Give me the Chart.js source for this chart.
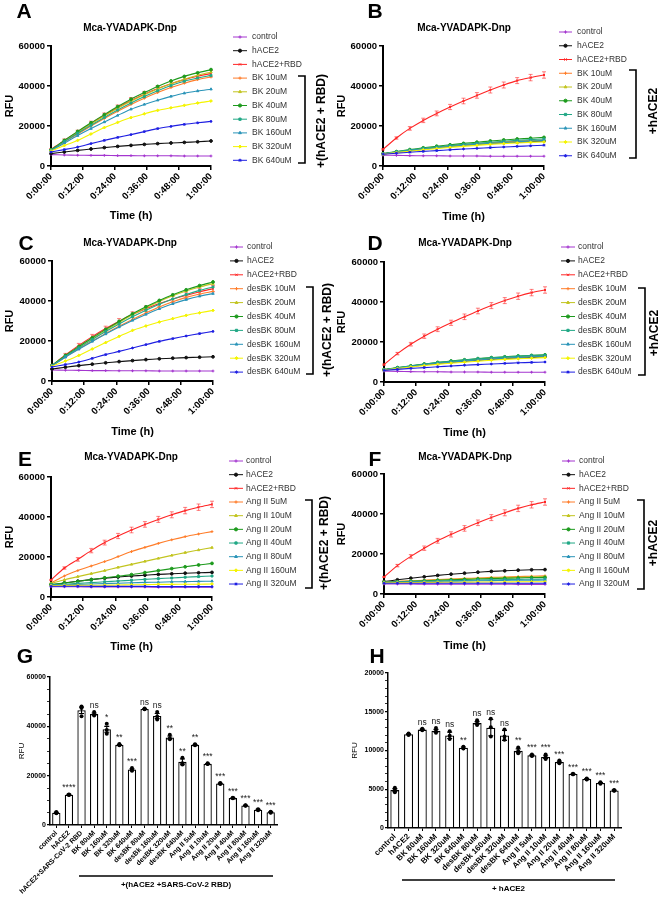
<!DOCTYPE html>
<html>
<head>
<meta charset="utf-8">
<script src="https://cdn.jsdelivr.net/npm/chart.js@4.4.1/dist/chart.umd.min.js"></script>
<style>
  body { margin: 0; background: #fff; }
  #fig { position: relative; width: 664px; height: 899px; background: #fff; overflow: hidden; }
  #fig canvas { position: absolute; }
</style>
</head>
<body>
<div id="fig"></div>
<script>
// ---- shared axis data ----
const minutes = [0, 5, 10, 15, 20, 25, 30, 35, 40, 45, 50, 55, 60];
const timeTicks = ['0:00:00', '0:12:00', '0:24:00', '0:36:00', '0:48:00', '1:00:00'];
const lineYTicks = [0, 20000, 40000, 60000];

const bkLabels = ['control', 'hACE2', 'hACE2+RBD', 'BK 10uM', 'BK 20uM', 'BK 40uM', 'BK 80uM', 'BK 160uM', 'BK 320uM', 'BK 640uM'];
const desLabels = ['control', 'hACE2', 'hACE2+RBD', 'desBK 10uM', 'desBK 20uM', 'desBK 40uM', 'desBK 80uM', 'desBK 160uM', 'desBK 320uM', 'desBK 640uM'];
const angLabels = ['control', 'hACE2', 'hACE2+RBD', 'Ang II 5uM', 'Ang II 10uM', 'Ang II 20uM', 'Ang II 40uM', 'Ang II 80uM', 'Ang II 160uM', 'Ang II 320uM'];

// ---- panel A: BK + (hACE2 + RBD) ----
const aControl = [5700, 5500, 5400, 5300, 5300, 5200, 5200, 5100, 5100, 5100, 5000, 5000, 5000];
const aHace2 = [6200, 7000, 7800, 8500, 9200, 9800, 10300, 10800, 11200, 11500, 11800, 12100, 12500];
const aRbd = [8300, 12800, 17000, 21300, 25300, 29200, 32800, 35900, 38700, 41100, 43200, 44900, 46200];
const aBk10 = [7800, 12000, 16000, 20000, 23800, 27400, 30800, 33900, 36700, 39200, 41400, 43200, 44500];
const aBk20 = [8000, 12500, 16800, 21000, 25000, 28900, 32400, 35600, 38500, 41100, 43400, 45400, 47000];
const aBk40 = [8000, 12800, 17300, 21600, 25700, 29700, 33400, 36700, 39800, 42500, 44800, 46600, 48200];
const aBk80 = [7900, 12200, 16400, 20400, 24300, 28000, 31500, 34700, 37600, 40200, 42400, 44000, 45300];
const aBk160 = [7600, 11400, 15200, 18700, 22000, 25300, 28400, 30800, 32900, 34800, 36400, 37500, 38400];
const aBk320 = [7500, 10200, 12800, 16000, 19200, 21800, 24200, 26100, 27800, 29100, 30300, 31500, 32500];
const aBk640 = [7000, 8200, 9500, 11200, 12800, 14300, 15700, 17200, 18700, 19800, 20800, 21600, 22300];
const aRbdErr = [400, 700, 900, 1100, 1200, 1300, 1400, 1400, 1500, 1500, 1600, 1600, 1600];

// ---- panel B: BK + hACE2 ----
const bControl = [5400, 5300, 5200, 5100, 5100, 5000, 5000, 5000, 4900, 4900, 4900, 4900, 4900];
const bHace2 = [6000, 6900, 7700, 8400, 9100, 9700, 10300, 10800, 11200, 11600, 11900, 12200, 12500];
const bRbd = [8300, 14000, 18800, 22800, 26300, 29500, 32500, 35300, 38000, 40500, 42700, 44200, 45500];
const bBk10 = [6100, 7000, 7800, 8600, 9300, 10000, 10600, 11100, 11600, 12000, 12400, 12700, 13000];
const bBk20 = [6000, 6900, 7700, 8400, 9100, 9700, 10300, 10800, 11300, 11700, 12100, 12500, 12800];
const bBk40 = [6200, 7200, 8200, 9100, 9900, 10600, 11300, 11900, 12500, 13000, 13500, 13900, 14300];
const bBk80 = [6100, 7100, 8000, 8800, 9500, 10200, 10800, 11400, 11900, 12400, 12800, 13200, 13500];
const bBk160 = [6000, 6900, 7700, 8400, 9100, 9700, 10300, 10800, 11300, 11700, 12100, 12500, 12800];
const bBk320 = [5900, 6700, 7400, 8100, 8700, 9300, 9800, 10300, 10800, 11200, 11500, 11800, 12000];
const bBk640 = [5900, 6400, 6900, 7300, 7700, 8100, 8500, 8800, 9200, 9500, 9800, 10100, 10400];
const bRbdErr = [300, 600, 900, 1100, 1200, 1300, 1400, 1400, 1500, 1500, 1500, 1600, 1600];

// ---- panel C: desBK + (hACE2 + RBD) ----
const cControl = [5500, 5400, 5300, 5200, 5200, 5100, 5100, 5100, 5000, 5000, 5000, 5000, 5000];
const cHace2 = [6000, 6900, 7700, 8400, 9100, 9700, 10200, 10700, 11100, 11400, 11700, 11900, 12100];
const cRbd = [7800, 13000, 17800, 22200, 26200, 29900, 33200, 36100, 38700, 40900, 42800, 44600, 46200];
const cDes10 = [7600, 12000, 16100, 20000, 23800, 27400, 30800, 34000, 37000, 39600, 41800, 43500, 44800];
const cDes20 = [7800, 12500, 16900, 21200, 25300, 29300, 33100, 36600, 39800, 42600, 45000, 47000, 48700];
const cDes40 = [7800, 12800, 17200, 21600, 25800, 29800, 33600, 37100, 40300, 43100, 45600, 47700, 49500];
const cDes80 = [7700, 12300, 16600, 20700, 24700, 28500, 32100, 35400, 38400, 41000, 43300, 45300, 47000];
const cDes160 = [7600, 11900, 15900, 19800, 23500, 27000, 30300, 33300, 36100, 38600, 40700, 42400, 43700];
const cDes320 = [7400, 10000, 12800, 16000, 19200, 22300, 25300, 27500, 29500, 31200, 32800, 34100, 35300];
const cDes640 = [7000, 8200, 9500, 11300, 13200, 14800, 16500, 18200, 19800, 21200, 22500, 23700, 24800];
const cRbdErr = [400, 800, 1000, 1100, 1200, 1300, 1400, 1400, 1500, 1500, 1600, 1600, 1600];

// ---- panel D: desBK + hACE2 ----
const dControl = [5400, 5300, 5200, 5100, 5100, 5000, 5000, 5000, 4900, 4900, 4900, 4900, 4900];
const dHace2 = [6100, 7000, 7800, 8500, 9200, 9800, 10400, 10900, 11300, 11700, 12000, 12300, 12500];
const dRbd = [8700, 14200, 18900, 22900, 26400, 29600, 32600, 35500, 38200, 40700, 42900, 44700, 46000];
const dDes10 = [6000, 6900, 7800, 8600, 9300, 10000, 10600, 11100, 11600, 12000, 12400, 12700, 13000];
const dDes20 = [6100, 7000, 7900, 8700, 9500, 10200, 10800, 11400, 11900, 12300, 12700, 13000, 13300];
const dDes40 = [6200, 7200, 8100, 9000, 9800, 10500, 11100, 11700, 12200, 12600, 13000, 13300, 13600];
const dDes80 = [6100, 7100, 8000, 8900, 9700, 10400, 11000, 11600, 12100, 12500, 12900, 13200, 13500];
const dDes160 = [6000, 6900, 7800, 8600, 9300, 9900, 10500, 11000, 11500, 11900, 12300, 12600, 12900];
const dDes320 = [5900, 6700, 7500, 8200, 8800, 9400, 9900, 10400, 10900, 11300, 11600, 11900, 12200];
const dDes640 = [5800, 6300, 6800, 7200, 7600, 8000, 8400, 8700, 9000, 9300, 9600, 9800, 10000];
const dRbdErr = [300, 600, 900, 1100, 1200, 1300, 1400, 1400, 1500, 1500, 1600, 1600, 1600];

// ---- panel E: Ang II + (hACE2 + RBD) ----
const eControl = [5200, 5100, 5100, 5000, 5000, 5000, 5000, 5000, 4900, 4900, 4900, 4900, 4900];
const eHace2 = [6000, 7000, 7900, 8700, 9400, 10000, 10500, 10900, 11300, 11600, 11900, 12100, 12300];
const eRbd = [8500, 14500, 18800, 23200, 27200, 30500, 33500, 36300, 38800, 41100, 43200, 44900, 46300];
const eAng5 = [7000, 10500, 13200, 15500, 17700, 20200, 22700, 24800, 26800, 28600, 30200, 31500, 32700];
const eAng10 = [6800, 8600, 10200, 11700, 13200, 14800, 16300, 17800, 19300, 20800, 22200, 23500, 24700];
const eAng20 = [6300, 7000, 7800, 8700, 9600, 10400, 11200, 12200, 13200, 14200, 15100, 16000, 16800];
const eAng40 = [6000, 6400, 6800, 7200, 7600, 8000, 8400, 8800, 9200, 9500, 9900, 10200, 10500];
const eAng80 = [5900, 6100, 6300, 6500, 6700, 6900, 7100, 7300, 7400, 7600, 7700, 7800, 7900];
const eAng160 = [5700, 5800, 5800, 5900, 5900, 6000, 6100, 6200, 6300, 6300, 6400, 6400, 6500];
const eAng320 = [5400, 5400, 5400, 5300, 5300, 5300, 5300, 5300, 5200, 5200, 5200, 5200, 5200];
const eRbdErr = [300, 600, 900, 1100, 1200, 1300, 1400, 1400, 1500, 1500, 1600, 1600, 1600];

// ---- panel F: Ang II + hACE2 ----
const fControl = [5000, 5000, 5000, 4900, 4900, 4900, 4900, 4900, 4900, 4900, 4800, 4800, 4800];
const fHace2 = [6200, 7100, 7900, 8600, 9300, 9900, 10400, 10900, 11300, 11600, 11900, 12100, 12200];
const fRbd = [8500, 14200, 18800, 22900, 26600, 29800, 32800, 35600, 38200, 40600, 42800, 44600, 46000];
const fAng5 = [6000, 6300, 6600, 6900, 7200, 7500, 7800, 8000, 8300, 8500, 8700, 8900, 9100];
const fAng10 = [5900, 6200, 6500, 6800, 7000, 7300, 7500, 7800, 8000, 8200, 8400, 8500, 8700];
const fAng20 = [5900, 6100, 6400, 6600, 6900, 7100, 7300, 7500, 7700, 7900, 8000, 8200, 8300];
const fAng40 = [5800, 6000, 6200, 6400, 6500, 6700, 6800, 7000, 7100, 7200, 7300, 7400, 7500];
const fAng80 = [5700, 5900, 6000, 6200, 6300, 6400, 6500, 6600, 6700, 6800, 6900, 6900, 7000];
const fAng160 = [5600, 5700, 5700, 5800, 5800, 5900, 5900, 6000, 6000, 6000, 6100, 6100, 6100];
const fAng320 = [5400, 5400, 5400, 5400, 5400, 5400, 5400, 5400, 5400, 5400, 5400, 5400, 5400];
const fRbdErr = [300, 600, 900, 1100, 1200, 1300, 1400, 1400, 1500, 1500, 1600, 1600, 1600];

// ---- panel G: end point, + (hACE2 + SARS-CoV-2 RBD) ----
const gLabels = ['control', 'hACE2', 'hACE2+SARS-CoV-2 RBD', 'BK 80uM', 'BK 160uM', 'BK 320uM', 'BK 640uM', 'desBK 80uM', 'desBk 160uM', 'desBK 320uM', 'desBK 640uM', 'Ang II 5uM', 'Ang II 10uM', 'Ang II 20uM', 'Ang II 40uM', 'Ang II 80uM', 'Ang II 160uM', 'Ang II 320uM'];
const gMeans = [5000, 12300, 46500, 45000, 38800, 32500, 22500, 47000, 44200, 35500, 25600, 32500, 24800, 16800, 10900, 7900, 6200, 5200];
const gErr = [150, 100, 1300, 400, 1200, 150, 300, 100, 1000, 600, 1200, 150, 100, 150, 100, 100, 150, 150];
const gRep1 = [5300, 12400, 48000, 45800, 41000, 32800, 23100, 47200, 45800, 36600, 27300, 32700, 25000, 17000, 11000, 8000, 6400, 5400];
const gRep2 = [5000, 12300, 47400, 44800, 38500, 32500, 22300, 47000, 44000, 35200, 25000, 32500, 24800, 16800, 10900, 7900, 6200, 5200];
const gRep3 = [4800, 12200, 44100, 44400, 37000, 32300, 22000, 46900, 42800, 34800, 24500, 32300, 24700, 16600, 10800, 7800, 6000, 5000];
const gSig = ['', '****', '', 'ns', '*', '**', '***', 'ns', 'ns', '**', '**', '**', '***', '***', '***', '***', '***', '***'];
const gYTicks = [0, 20000, 40000, 60000];

// ---- panel H: end point, + hACE2 ----
const hLabels = ['control', 'hACE2', 'BK 80uM', 'BK 160uM', 'BK 320uM', 'BK 640uM', 'desBK 80uM', 'desBk 160uM', 'desBK 320uM', 'desBK 640uM', 'Ang II 5uM', 'Ang II 10uM', 'Ang II 20uM', 'Ang II 40uM', 'Ang II 80uM', 'Ang II 160uM', 'Ang II 320uM'];
const hMeans = [4900, 12100, 12700, 12550, 11950, 10350, 13550, 12950, 11950, 9980, 9380, 9160, 8520, 6970, 6320, 5800, 4850];
const hErr = [180, 60, 60, 180, 400, 100, 180, 1050, 650, 230, 70, 170, 100, 30, 50, 60, 40];
const hRep1 = [5200, 12200, 12800, 12900, 12500, 10500, 13900, 14100, 12700, 10400, 9500, 9500, 8700, 7000, 6400, 5900, 4900];
const hRep2 = [4900, 12100, 12700, 12500, 11900, 10300, 13500, 13000, 11800, 9900, 9350, 9100, 8500, 6950, 6300, 5800, 4850];
const hRep3 = [4600, 12000, 12600, 12300, 11500, 10250, 13300, 11800, 11400, 9650, 9300, 8900, 8350, 6950, 6250, 5700, 4800];
const hSig = ['', '', 'ns', 'ns', 'ns', '**', 'ns', 'ns', 'ns', '**', '***', '***', '***', '***', '***', '***', '***'];
const hYTicks = [0, 5000, 10000, 15000, 20000];

// ---- styles ----
const FONT = '"Liberation Sans", Arial, Helvetica, sans-serif';
const lineColors = ['#a436cf', '#111111', '#ff2525', '#ff7d2a', '#c2c41f', '#1d9a1d', '#22a886', '#2a94b8', '#f4f400', '#1e1ee2'];
const markers = ['cross', 'circle', 'crossRot', 'cross', 'triangle', 'circle', 'rect', 'triangle', 'rectRot', 'star'];

Chart.defaults.font.family = FONT;
Chart.defaults.color = '#000';

const fig = document.getElementById('fig');

function addCanvas(box) {
    const c = document.createElement('canvas');
    c.width = box[2];
    c.height = box[3];
    c.style.left = box[0] + 'px';
    c.style.top = box[1] + 'px';
    fig.appendChild(c);
    return c;
}

// padding so the plot area lands on area = [left, top, right, bottom] (page px)
function fixedPadding(box, area) {
    return { left: 0, top: area[1] - box[1], right: box[0] + box[2] - area[2], bottom: 0 };
}

function drawMarker(ctx, style, x, y, r) {
    if (Chart.helpers && Chart.helpers.drawPoint) {
        Chart.helpers.drawPoint(ctx, { pointStyle: style, radius: r, rotation: 0, borderWidth: 1 }, x, y);
    } else {
        ctx.beginPath();
        ctx.arc(x, y, r, 0, Math.PI * 2);
        ctx.fill();
    }
}

function lineOverlay(p) {
    return {
        id: 'overlay' + p.letter,
        beforeDatasetsDraw(chart) {
            // error bars of the hACE2+RBD series
            const ctx = chart.ctx, xs = chart.scales.x, ys = chart.scales.y;
            const vals = p.series[2];
            ctx.save();
            ctx.strokeStyle = 'rgba(255,40,40,0.75)';
            ctx.lineWidth = 0.8;
            vals.forEach((v, k) => {
                const x = xs.getPixelForValue(minutes[k]);
                const y0 = ys.getPixelForValue(v + p.rbdErr[k]);
                const y1 = ys.getPixelForValue(v - p.rbdErr[k]);
                ctx.beginPath();
                ctx.moveTo(x, y0); ctx.lineTo(x, y1);
                ctx.moveTo(x - 2, y0); ctx.lineTo(x + 2, y0);
                ctx.moveTo(x - 2, y1); ctx.lineTo(x + 2, y1);
                ctx.stroke();
            });
            ctx.restore();
        },
        afterDraw(chart) {
            const ctx = chart.ctx;
            ctx.save();
            ctx.translate(-p.box[0], -p.box[1]);
            ctx.fillStyle = '#000';
            ctx.textAlign = 'center';
            ctx.textBaseline = 'middle';
            ctx.font = 'bold 21px ' + FONT;
            ctx.fillText(p.letter, p.letterAt[0], p.letterAt[1]);
            ctx.font = 'bold 10px ' + FONT;
            ctx.fillText('Mca-YVADAPK-Dnp', p.titleAt[0], p.titleAt[1]);

            // legend
            const lg = p.legend;
            ctx.font = '8.5px ' + FONT;
            ctx.textAlign = 'left';
            chart.data.datasets.forEach((ds, i) => {
                const y = lg.y + i * lg.step;
                ctx.strokeStyle = ds.borderColor;
                ctx.fillStyle = ds.borderColor;
                ctx.lineWidth = 1;
                ctx.beginPath();
                ctx.moveTo(lg.x0, y);
                ctx.lineTo(lg.x1, y);
                ctx.stroke();
                drawMarker(ctx, ds.pointStyle, (lg.x0 + lg.x1) / 2, y, 1.6);
                ctx.fillStyle = '#333';
                ctx.fillText(ds.label, lg.tx, y);
            });

            // bracket
            const br = p.bracket;
            ctx.strokeStyle = '#000';
            ctx.lineWidth = 1.6;
            ctx.beginPath();
            ctx.moveTo(br.x - 7, br.y0);
            ctx.lineTo(br.x, br.y0);
            ctx.lineTo(br.x, br.y1);
            ctx.lineTo(br.x - 7, br.y1);
            ctx.stroke();

            ctx.translate(p.side.x, p.side.y);
            ctx.rotate(-Math.PI / 2);
            ctx.fillStyle = '#000';
            ctx.textAlign = 'center';
            ctx.font = 'bold 12px ' + FONT;
            ctx.fillText(p.side.text, 0, 0);
            ctx.restore();
        }
    };
}

function linePanel(p) {
    const canvas = addCanvas(p.box);
    const n = p.series.length;
    const datasets = p.series.map((vals, i) => ({
        label: p.labels[i],
        data: vals.map((v, k) => ({ x: minutes[k], y: v })),
        borderColor: lineColors[i],
        backgroundColor: lineColors[i],
        borderWidth: 1.1,
        pointStyle: markers[i],
        pointRadius: 1.4,
        pointBorderWidth: 1,
        tension: 0.3,
        clip: 5,
        order: n - i
    }));

    new Chart(canvas, {
        type: 'line',
        data: { datasets },
        options: {
            responsive: false,
            animation: false,
            events: [],
            layout: { padding: fixedPadding(p.box, p.area) },
            plugins: { legend: { display: false }, tooltip: { enabled: false } },
            scales: {
                x: {
                    type: 'linear',
                    min: 0,
                    max: 60,
                    afterFit: s => { s.height = p.box[1] + p.box[3] - p.area[3]; },
                    ticks: {
                        stepSize: 12,
                        minRotation: 45,
                        maxRotation: 45,
                        padding: 1,
                        color: '#000',
                        font: { size: 9.5, weight: 'bold' },
                        callback: v => timeTicks[Math.round(v / 12)]
                    },
                    grid: { drawOnChartArea: false, color: '#000', lineWidth: 1.5, tickLength: 4 },
                    border: { color: '#000', width: 2 },
                    title: { display: true, text: 'Time (h)', color: '#000', font: { size: 11, weight: 'bold' }, padding: { top: 0, bottom: 1 } }
                },
                y: {
                    min: 0,
                    max: 60000,
                    afterFit: s => { s.width = p.area[0] - p.box[0]; },
                    ticks: {
                        stepSize: 20000,
                        padding: 2,
                        color: '#000',
                        font: { size: 9.5, weight: 'bold' },
                        callback: v => lineYTicks.includes(v) ? String(v) : ''
                    },
                    grid: { drawOnChartArea: false, color: '#000', lineWidth: 1.5, tickLength: 4 },
                    border: { color: '#000', width: 2 },
                    title: { display: true, text: 'RFU', color: '#000', font: { size: 11, weight: 'bold' }, padding: { top: 3.5, bottom: 0 } }
                }
            }
        },
        plugins: [lineOverlay(p)]
    });
}

function barOverlay(p) {
    return {
        id: 'bars' + p.letter,
        afterDatasetsDraw(chart) {
            const ctx = chart.ctx, xs = chart.scales.x, ys = chart.scales.y;
            ctx.save();
            ctx.strokeStyle = '#000';
            ctx.lineWidth = 1.1;
            p.means.forEach((m, i) => {
                const x = xs.getPixelForValue(i);
                const yt = ys.getPixelForValue(m + p.err[i]);
                const yb = ys.getPixelForValue(m - p.err[i]);
                ctx.beginPath();
                ctx.moveTo(x, yt); ctx.lineTo(x, yb);
                ctx.moveTo(x - 2.5, yt); ctx.lineTo(x + 2.5, yt);
                ctx.moveTo(x - 2.5, yb); ctx.lineTo(x + 2.5, yb);
                ctx.stroke();
            });
            ctx.fillStyle = '#222';
            ctx.textAlign = 'center';
            ctx.textBaseline = 'alphabetic';
            ctx.font = '8.5px ' + FONT;
            p.sig.forEach((s, i) => {
                if (!s) return;
                const top = Math.max(p.means[i] + p.err[i], ...p.reps.map(r => r[i]));
                ctx.fillText(s, xs.getPixelForValue(i), ys.getPixelForValue(top) - 4);
            });
            ctx.restore();
        },
        afterDraw(chart) {
            const ctx = chart.ctx;
            ctx.save();
            ctx.translate(-p.box[0], -p.box[1]);
            ctx.fillStyle = '#000';
            ctx.textAlign = 'center';
            ctx.textBaseline = 'middle';
            ctx.font = 'bold 21px ' + FONT;
            ctx.fillText(p.letter, p.letterAt[0], p.letterAt[1]);
            ctx.strokeStyle = '#000';
            ctx.lineWidth = 1.3;
            ctx.beginPath();
            ctx.moveTo(p.under.x0, p.under.y);
            ctx.lineTo(p.under.x1, p.under.y);
            ctx.stroke();
            ctx.font = 'bold 8px ' + FONT;
            ctx.fillText(p.under.text, (p.under.x0 + p.under.x1) / 2, p.under.y + 9);
            ctx.restore();
        }
    };
}

function barPanel(p) {
    const canvas = addCanvas(p.box);
    const dots = p.reps.map(r => ({
        type: 'line',
        data: r,
        showLine: false,
        pointRadius: 2,
        pointBackgroundColor: '#000',
        pointBorderColor: '#000',
        pointBorderWidth: 0,
        order: 0
    }));

    new Chart(canvas, {
        type: 'bar',
        data: {
            labels: p.labels,
            datasets: [{
                data: p.means,
                backgroundColor: '#fff',
                borderColor: '#000',
                borderWidth: 1.3,
                barPercentage: 0.66,
                categoryPercentage: 1,
                order: 2
            }, ...dots]
        },
        options: {
            responsive: false,
            animation: false,
            events: [],
            layout: { padding: fixedPadding(p.box, p.area) },
            plugins: { legend: { display: false }, tooltip: { enabled: false } },
            scales: {
                x: {
                    afterFit: s => { s.height = p.box[1] + p.box[3] - p.area[3]; },
                    ticks: {
                        autoSkip: false,
                        minRotation: 45,
                        maxRotation: 45,
                        padding: 1,
                        color: '#000',
                        font: { size: p.xFont, weight: 'bold' }
                    },
                    grid: { drawOnChartArea: false, offset: false, color: '#000', lineWidth: 1, tickLength: 3 },
                    border: { color: '#000', width: 1.5 }
                },
                y: {
                    min: 0,
                    max: p.yTicks[p.yTicks.length - 1],
                    afterFit: s => { s.width = p.area[0] - p.box[0]; },
                    ticks: {
                        stepSize: p.minorStep,
                        autoSkip: false,
                        padding: 1,
                        color: '#000',
                        font: { size: 7, weight: 'bold' },
                        callback: v => p.yTicks.includes(v) ? String(v) : ''
                    },
                    grid: {
                        drawOnChartArea: false,
                        color: '#000',
                        lineWidth: c => p.yTicks.includes(c.tick && c.tick.value) ? 1.3 : 0.8,
                        tickLength: 3
                    },
                    border: { color: '#000', width: 1.5 },
                    title: { display: true, text: 'RFU', color: '#000', font: { size: 8 }, padding: { top: p.rfuPad, bottom: 0 } }
                }
            }
        },
        plugins: [barOverlay(p)]
    });
}

// ---- build the figure ----
linePanel({
    letter: 'A', box: [0, 0, 345, 224], area: [51, 46, 211, 166],
    letterAt: [24, 12], titleAt: [130, 28],
    labels: bkLabels, rbdErr: aRbdErr,
    series: [aControl, aHace2, aRbd, aBk10, aBk20, aBk40, aBk80, aBk160, aBk320, aBk640],
    legend: { x0: 233, x1: 247, tx: 252, y: 37, step: 13.7 },
    bracket: { x: 305, y0: 76, y1: 163 },
    side: { text: '+(hACE2 + RBD)', x: 322, y: 121 }
});

linePanel({
    letter: 'B', box: [332, 0, 332, 225], area: [383, 46, 544, 166],
    letterAt: [375, 12], titleAt: [464, 28],
    labels: bkLabels, rbdErr: bRbdErr,
    series: [bControl, bHace2, bRbd, bBk10, bBk20, bBk40, bBk80, bBk160, bBk320, bBk640],
    legend: { x0: 559, x1: 572, tx: 577, y: 32, step: 13.75 },
    bracket: { x: 636, y0: 70, y1: 158 },
    side: { text: '+hACE2', x: 654, y: 111 }
});

linePanel({
    letter: 'C', box: [0, 224, 345, 216], area: [52, 261, 213, 381],
    letterAt: [26, 244], titleAt: [130, 243],
    labels: desLabels, rbdErr: cRbdErr,
    series: [cControl, cHace2, cRbd, cDes10, cDes20, cDes40, cDes80, cDes160, cDes320, cDes640],
    legend: { x0: 230, x1: 243, tx: 247, y: 247, step: 13.9 },
    bracket: { x: 313, y0: 287, y1: 374 },
    side: { text: '+(hACE2 + RBD)', x: 328, y: 330 }
});

linePanel({
    letter: 'D', box: [332, 225, 332, 216], area: [384, 262, 545, 382],
    letterAt: [375, 244], titleAt: [465, 243],
    labels: desLabels, rbdErr: dRbdErr,
    series: [dControl, dHace2, dRbd, dDes10, dDes20, dDes40, dDes80, dDes160, dDes320, dDes640],
    legend: { x0: 561, x1: 575, tx: 578, y: 247, step: 13.9 },
    bracket: { x: 645, y0: 288, y1: 375 },
    side: { text: '+hACE2', x: 655, y: 333 }
});

linePanel({
    letter: 'E', box: [0, 440, 345, 215], area: [51, 477, 212, 597],
    letterAt: [25, 460], titleAt: [131, 457],
    labels: angLabels, rbdErr: eRbdErr,
    series: [eControl, eHace2, eRbd, eAng5, eAng10, eAng20, eAng40, eAng80, eAng160, eAng320],
    legend: { x0: 229, x1: 243, tx: 246, y: 461, step: 13.67 },
    bracket: { x: 312, y0: 500, y1: 588 },
    side: { text: '+(hACE2 + RBD)', x: 325, y: 543 }
});

linePanel({
    letter: 'F', box: [332, 441, 332, 213], area: [384, 474, 545, 594],
    letterAt: [375, 460], titleAt: [465, 457],
    labels: angLabels, rbdErr: fRbdErr,
    series: [fControl, fHace2, fRbd, fAng5, fAng10, fAng20, fAng40, fAng80, fAng160, fAng320],
    legend: { x0: 562, x1: 575, tx: 579, y: 461, step: 13.67 },
    bracket: { x: 644, y0: 500, y1: 589 },
    side: { text: '+hACE2', x: 654, y: 543 }
});

barPanel({
    letter: 'G', box: [0, 640, 332, 259], area: [50, 677, 277, 825],
    letterAt: [25, 657],
    labels: gLabels, means: gMeans, err: gErr, reps: [gRep1, gRep2, gRep3], sig: gSig,
    yTicks: gYTicks, minorStep: 5000, xFont: 7, rfuPad: 17,
    under: { x0: 79, x1: 273, y: 876, text: '+(hACE2 +SARS-CoV-2 RBD)' }
});

barPanel({
    letter: 'H', box: [332, 640, 332, 259], area: [388, 673, 621, 828],
    letterAt: [377, 657],
    labels: hLabels, means: hMeans, err: hErr, reps: [hRep1, hRep2, hRep3], sig: hSig,
    yTicks: hYTicks, minorStep: 1000, xFont: 8, rfuPad: 18,
    under: { x0: 402, x1: 615, y: 880, text: '+ hACE2' }
});
</script>
</body>
</html>
